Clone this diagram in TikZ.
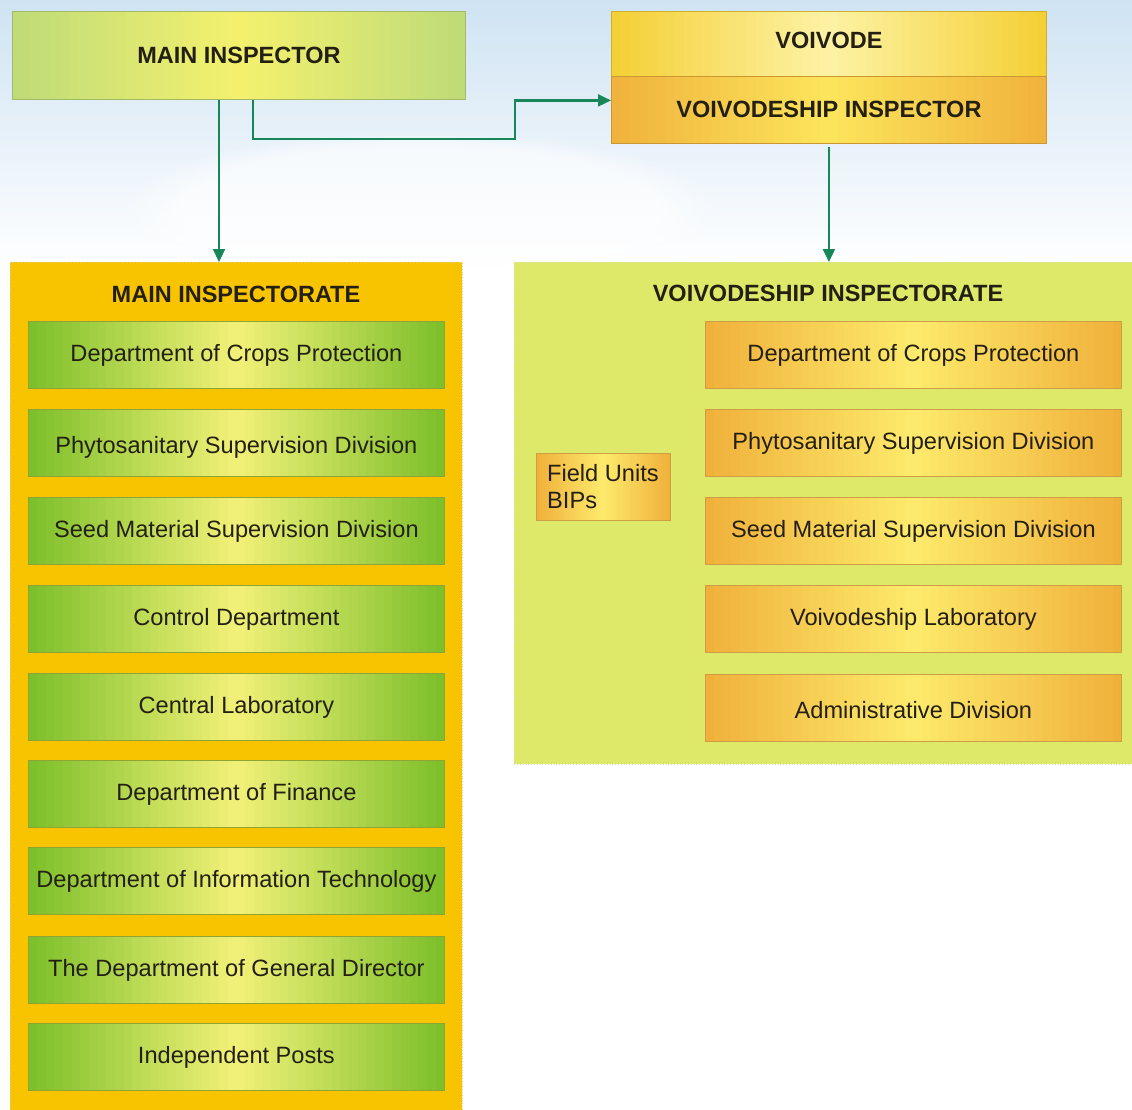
\documentclass[tikz,border=0pt]{standalone}
\usepackage{fontspec}
\setmainfont{Liberation Sans}
\usetikzlibrary{arrows.meta,calc,fadings}
\definecolor{sky}{HTML}{CFE3F3}
\definecolor{txtc}{HTML}{231F12}
\definecolor{arrc}{HTML}{17875A}
\definecolor{mainbg}{HTML}{F8C400}
\definecolor{voibg}{HTML}{DEE96A}
\definecolor{gedge}{HTML}{7CBF2A}
\definecolor{gmid}{HTML}{F4F27A}
\definecolor{gline}{HTML}{8EA535}
\definecolor{oedge}{HTML}{F0B03A}
\definecolor{omid}{HTML}{FDEB6C}
\definecolor{oline}{HTML}{CD9E45}
\definecolor{miedge}{HTML}{BEDB78}
\definecolor{mimid}{HTML}{F5F16E}
\definecolor{vedge}{HTML}{F4CF35}
\definecolor{vmid}{HTML}{FDF3A6}
\definecolor{viedge}{HTML}{F0B23C}
\definecolor{vimid}{HTML}{FCE65C}
\tikzset{
  hgrad/.style 2 args={path picture={
    \foreach \i in {0,...,47}{
      \pgfmathtruncatemacro\p{100*(1-abs((\i+0.5)/24-1))}
      \fill[#2!\p!#1] ($(path picture bounding box.north west)!{\i/48}!(path picture bounding box.north east)$)
        rectangle ($(path picture bounding box.south west)!{(\i+1.4)/48}!(path picture bounding box.south east)$);
    }}},
  txt/.style={font=\fontsize{23.6}{27}\selectfont, text=txtc},
  btxt/.style={font=\fontsize{23.5}{27}\selectfont\bfseries, text=txtc},
  gbox/.style={txt, draw=gline, line width=0.8pt, hgrad={gedge}{gmid},
    minimum width=416pt, minimum height=67pt, inner sep=0pt, anchor=north west},
  obox/.style={txt, draw=oline, line width=0.8pt, hgrad={oedge}{omid},
    minimum width=416pt, minimum height=67pt, inner sep=0pt, anchor=north west},
  area/.style={draw=#1, dotted, line width=0.8pt, inner sep=0pt, anchor=north west},
  arr/.style={draw=arrc, line width=2.2pt, -{Triangle[length=13pt,width=12pt]}}
}
\newcommand{\lowertext}[2]{\raisebox{#1}[\height][\depth]{#2}}
\begin{document}
\begin{tikzpicture}[x=1pt,y=-1pt]
\useasboundingbox (0,0) rectangle (1132,1109);
% sky background
\fill[white] (0,0) rectangle (1132,1109);
\fill[top color=sky, bottom color=white] (0,0) rectangle (1132,270);
\fill[white, opacity=0.6, path fading=circle with fuzzy edge 20 percent] (420,210) ellipse (300pt and 80pt);

% top nodes
\node[btxt, draw=miedge!85!black, line width=0.8pt, hgrad={miedge}{mimid},
  minimum width=453pt, minimum height=88pt, inner sep=0pt, anchor=north west] (mi) at (12,11) {MAIN INSPECTOR};
\node[btxt, draw=vedge!85!black, line width=0.8pt, hgrad={vedge}{vmid},
  minimum width=435pt, minimum height=65pt, inner sep=0pt, anchor=north west] (vo) at (611,11) {\lowertext{3.5pt}{VOIVODE}};
\node[btxt, draw=viedge!85!black, line width=0.8pt, hgrad={viedge}{vimid},
  minimum width=435pt, minimum height=67pt, inner sep=0pt, anchor=north west] (vi) at (611,76) {VOIVODESHIP INSPECTOR};

% inspectorate areas
\node[area=mainbg!70!black!40, fill=mainbg, minimum width=452pt, minimum height=860pt] (ma) at (10,262) {};
\node[area=voibg!75!black!40, fill=voibg, minimum width=630pt, minimum height=502pt] (va) at (514,262) {};
\node[btxt] (mat) at (236,294) {MAIN INSPECTORATE};
\node[btxt] (vat) at (828,293) {VOIVODESHIP INSPECTORATE};

% main inspectorate boxes
\node[gbox] (g1) at (28,321) {Department of Crops Protection};
\node[gbox] (g2) at (28,409) {\lowertext{-4pt}{Phytosanitary Supervision Division}};
\node[gbox] (g3) at (28,497) {Seed Material Supervision Division};
\node[gbox] (g4) at (28,585) {Control Department};
\node[gbox] (g5) at (28,673) {Central Laboratory};
\node[gbox] (g6) at (28,760) {Department of Finance};
\node[gbox] (g7) at (28,847) {Department of Information Technology};
\node[gbox] (g8) at (28,936) {The Department of General Director};
\node[gbox] (g9) at (28,1023) {Independent Posts};

% voivodeship inspectorate boxes
\node[obox] (o1) at (705,321) {Department of Crops Protection};
\node[obox] (o2) at (705,409) {Phytosanitary Supervision Division};
\node[obox] (o3) at (705,497) {Seed Material Supervision Division};
\node[obox] (o4) at (705,585) {Voivodeship Laboratory};
\node[obox] (o5) at (705,674) {\lowertext{-2pt}{Administrative Division}};
\node[txt, draw=oline, line width=0.8pt, hgrad={oedge}{omid},
  minimum width=134pt, minimum height=67pt, inner sep=0pt, anchor=north west] (fu) at (536,453) {};
\node[txt, align=left, anchor=west, inner sep=0pt] (fut) at (547,487) {Field Units\\BIPs};

% connectors
\coordinate (bend) at (515,139);
\draw[arr] ([xshift=207pt]mi.south west) -- ([xshift=207pt]mi.south west |- ma.north);
\draw[arr] ([xshift=241pt]mi.south west) |- (bend) |- ([yshift=9.5pt]vi.west);
\draw[arr] ([yshift=-3pt]vi.south) -- (vi.south |- va.north);
\end{tikzpicture}
\end{document}
